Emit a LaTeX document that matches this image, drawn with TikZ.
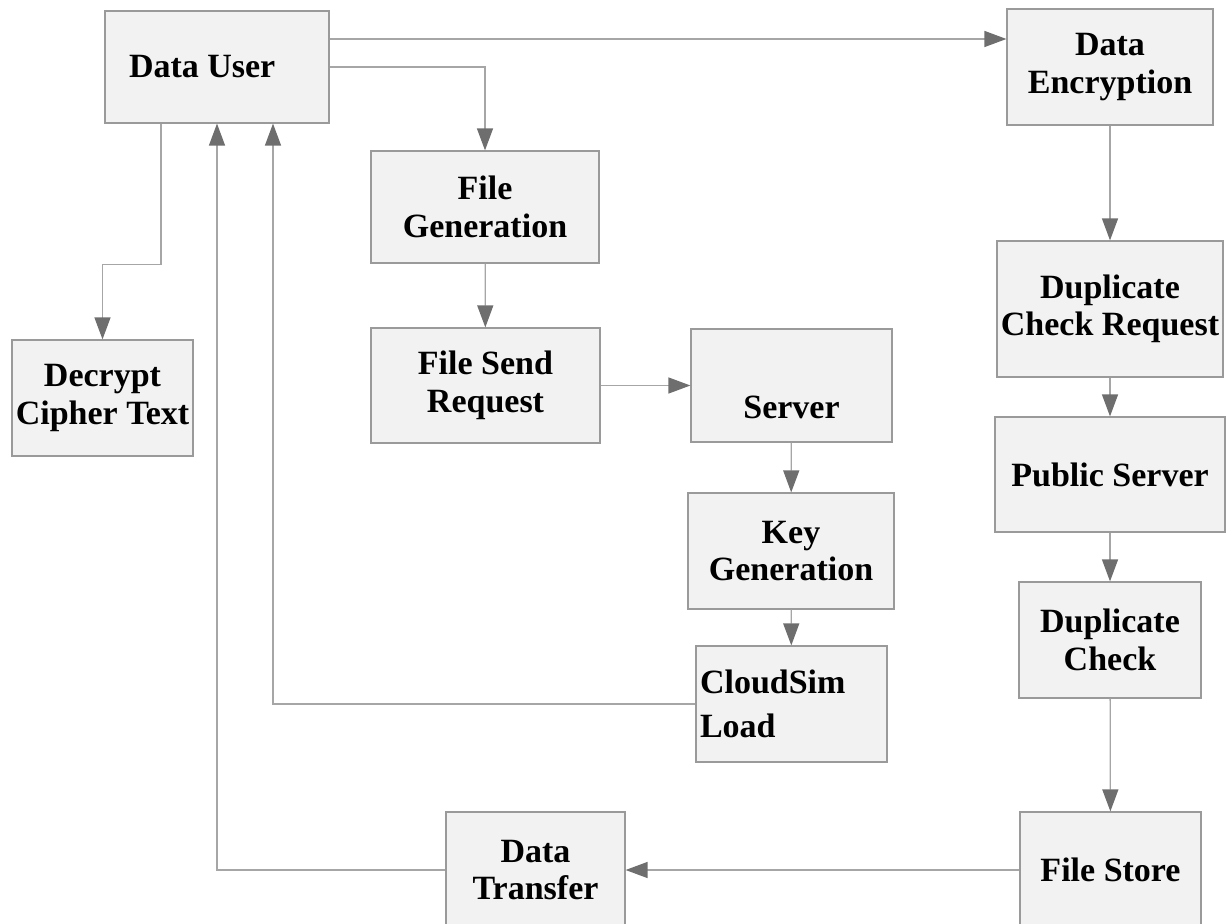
\documentclass[tikz,border=0pt]{standalone}
\usepackage{fontspec}
\setmainfont{Liberation Serif}
\usetikzlibrary{arrows.meta}
\definecolor{boxfill}{HTML}{F2F2F2}
\definecolor{boxline}{HTML}{9A9A9A}
\definecolor{linegray}{HTML}{A6A6A6}
\definecolor{tipgray}{HTML}{6E6E6E}

\begin{document}
\begin{tikzpicture}[
                x=0.5pt, y=-0.5pt,
                box/.style={rectangle, draw=boxline, fill=boxfill, line width=0.6pt,
                    inner sep=1pt, align=center,
                    font=\bfseries\fontsize{17}{18.75}\selectfont},
                flow/.style={draw=linegray, line width=0.65pt,
                    -{Triangle[length=11pt,width=8pt,color=tipgray]}}
            ]
                \useasboundingbox (0,0) rectangle (1230,924);
                \node[box, inner xsep=12pt, text width=88pt, align=flush left, minimum height=56pt] (user) at (217,67) {Data User};
                \node[box, minimum width=103pt, minimum height=58pt] (encrypt) at (1110,67) {Data\\Encryption};
                \node[box, minimum width=114pt, minimum height=56pt] (filegen) at (485,207) {File\\Generation};
                \node[box, minimum width=90.5pt, minimum height=58pt] (decrypt) at (102.5,398) {Decrypt\\Cipher Text};
                \node[box, minimum width=114.5pt, minimum height=57.5pt] (sendreq) at (485.5,385.5) {File Send\\Request};
                \node[box, minimum width=100.5pt, minimum height=56.5pt, text height=33pt, text depth=0pt] (server) at (791.5,385.5) {Server};
                \node[box, minimum width=103pt, minimum height=58pt] (keygen) at (791,551) {Key\\Generation};
                \node[box, inner xsep=2pt, text width=91.5pt, align=flush left, minimum height=58pt] (cloudsim) at (791.5,704) {CloudSim\\[3.25pt]Load};
                \node[box, minimum width=113pt, minimum height=68pt] (dupreq) at (1110,309) {Duplicate\\Check Request};
                \node[box, minimum width=115pt, minimum height=57.5pt] (pubserver) at (1110,474.5) {Public Server};
                \node[box, minimum width=91pt, minimum height=58pt] (dupcheck) at (1110,640) {Duplicate\\Check};
                \node[box, minimum width=90.5pt, minimum height=58pt] (filestore) at (1110.5,870) {File Store};
                \node[box, minimum width=89.5pt, minimum height=58pt] (transfer) at (535.5,870) {Data\\Transfer};
                \draw[flow] ([yshift=14pt]user.east) -- ([yshift=14pt]user.east -| encrypt.west);
                \draw[flow] (user.east) -| (filegen.north);
                \draw[flow] ([xshift=-28pt]user.south) -- ++(0,141) -| (decrypt.north);
                \draw[flow] (filegen) -- (sendreq);
                \draw[flow] (sendreq) -- (server);
                \draw[flow] (server) -- (keygen);
                \draw[flow] (keygen) -- (cloudsim);
                \draw[flow] (cloudsim.west) -| ([xshift=28pt]user.south);
                \draw[flow] (transfer.west) -| (user.south);
                \draw[flow] (filestore) -- (transfer);
                \draw[flow] (encrypt) -- (dupreq);
                \draw[flow] (dupreq) -- (pubserver);
                \draw[flow] (pubserver) -- (dupcheck);
                \draw[flow] (dupcheck) -- (filestore);
            \end{tikzpicture}
\end{document}
